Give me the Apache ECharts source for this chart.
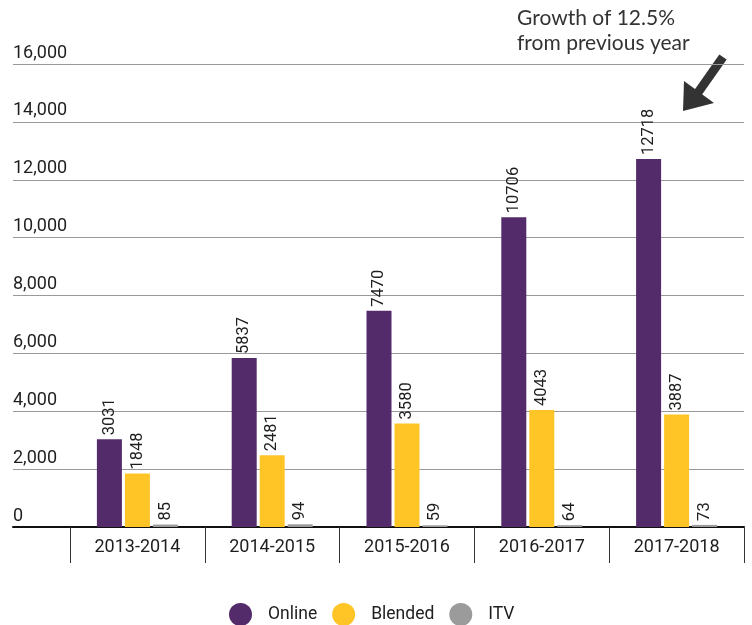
<!DOCTYPE html>
<html><head><meta charset="utf-8">
<script src="https://cdn.jsdelivr.net/npm/echarts@6/dist/echarts.min.js"></script>
<style>html,body{margin:0;padding:0;background:#fff}#c{width:752px;height:625px}</style>
</head><body><div id="c"></div>
<script>
const categories = ['2013-2014','2014-2015','2015-2016','2016-2017','2017-2018'];
const online = [3031, 5837, 7470, 10706, 12718];
const blended = [1848, 2481, 3580, 4043, 3887];
const itv = [85, 94, 59, 64, 73];
const seriesNames = ['Online','Blended','ITV'];
const colors = ['#532B6B','#FFC526','#9B9B9B'];
const annotation = 'Growth of 12.5%\nfrom previous year';

const chart = echarts.init(document.getElementById('c'));
const fontFam = 'Roboto, "Noto Sans", sans-serif';
const lbl = {show:true, position:'top', rotate:90, align:'left', verticalAlign:'middle', distance:4, fontSize:16.5, color:'#1e1e1e', fontFamily:fontFam};
chart.setOption({
  animation:false,
  textStyle:{fontFamily:fontFam},
  grid:[
    {left:70, right:8, top:64, bottom:98},
    {left:13, width:57, top:64, bottom:98}
  ],
  legend:{
    top:598, left:224, icon:'circle', itemWidth:23, itemHeight:23, itemGap:15,
    textStyle:{fontSize:17.5, color:'#1e1e1e', fontFamily:fontFam, padding:[0,0,0,11]},
    data:seriesNames
  },
  xAxis:[
    {type:'category', gridIndex:0, data:categories,
     axisLine:{lineStyle:{color:'#111', width:2}},
     axisTick:{show:true, length:36, lineStyle:{color:'#333', width:1}},
     axisLabel:{margin:11, fontSize:18, color:'#1e1e1e', fontFamily:fontFam}},
    {type:'value', gridIndex:1, min:0, max:1,
     axisLine:{show:true, lineStyle:{color:'#111', width:2}},
     axisTick:{show:false}, axisLabel:{show:false}, splitLine:{show:false}}
  ],
  yAxis:[
    {type:'value', gridIndex:0, min:0, max:16000, interval:2000,
     axisLine:{show:false}, axisTick:{show:false},
     axisLabel:{align:'left', margin:57, verticalAlign:'bottom', padding:[0,0,2,0], fontSize:18, color:'#1e1e1e', fontFamily:fontFam,
       formatter: v => v.toLocaleString('en-US')},
     splitLine:{lineStyle:{color:'#999', width:1}}},
    {type:'value', gridIndex:1, min:0, max:16000, interval:2000,
     axisLine:{show:false}, axisTick:{show:false}, axisLabel:{show:false},
     splitLine:{lineStyle:{color:'#999', width:1}}}
  ],
  series:[
    {name:seriesNames[0], type:'bar', data:online, itemStyle:{color:colors[0]}, barWidth:25, barGap:'12%', label:lbl},
    {name:seriesNames[1], type:'bar', data:blended, itemStyle:{color:colors[1]}, barWidth:25, barGap:'12%', label:lbl},
    {name:seriesNames[2], type:'bar', data:itv, itemStyle:{color:colors[2]}, barWidth:25, barGap:'12%', label:lbl}
  ],
  graphic:[
    {type:'text', left:517, top:6, style:{text:annotation, fontSize:21, lineHeight:25, fill:'#333', fontFamily:'Lato, "Open Sans", sans-serif', fontWeight:400}},
    {type:'line', shape:{x1:723, y1:57, x2:697, y2:94}, style:{stroke:'#333', lineWidth:9}},
    {type:'polygon', shape:{points:[[683,111],[684,81],[714,103]]}, style:{fill:'#333'}}
  ]
});
</script></body></html>
